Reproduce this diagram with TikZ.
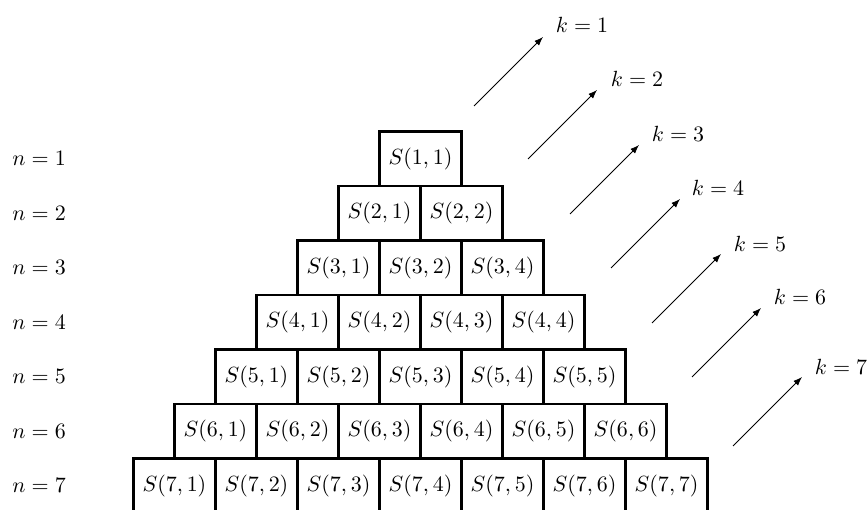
\documentclass[tikz,border=0pt]{standalone}
\usetikzlibrary{arrows.meta}
\begin{document}
\begin{tikzpicture}[x=0.455pt,y=-0.455pt,
  cell/.style={draw, line width=1pt, minimum width=37.3pt, minimum height=24.8pt, inner sep=0pt},
  nlab/.style={anchor=west, inner sep=0pt},
  klab/.style={inner sep=0pt},
  karrow/.style={line width=0.4pt, -{Latex[length=4pt,width=3pt]}}]
\useasboundingbox (0,0) rectangle (867,509);
\foreach \n in {1,...,7} {
  \pgfmathsetmacro\yy{131.5+54.5*(\n-1)+27.25}
  \node[nlab] (n\n) at (12,\yy) {$n=\n$};
  \foreach \k in {1,...,\n} {
    \ifnum\n\k=33 \def\lab{4}\else\edef\lab{\k}\fi
    \node[cell] (s\n\k) at ({420.5+82*(\k-(\n+1)/2)},\yy) {$S(\n,\lab)$};
  }
}
\foreach \k/\sx/\sy/\lx/\ly in {1/474/106/582/25, 2/528/159/637/79, 3/570/214/678/134, 4/611/268/718/188, 5/652/323/760/244, 6/692/377/800/297, 7/733/446/841/367} {
  \coordinate (ks\k) at (\sx,\sy);
  \coordinate (kt\k) at ({\sx+69},{\sy-69});
  \node[klab] (k\k) at (\lx,\ly) {$k=\k$};
  \draw[karrow] (ks\k) -- (kt\k);
}
\end{tikzpicture}
\end{document}
